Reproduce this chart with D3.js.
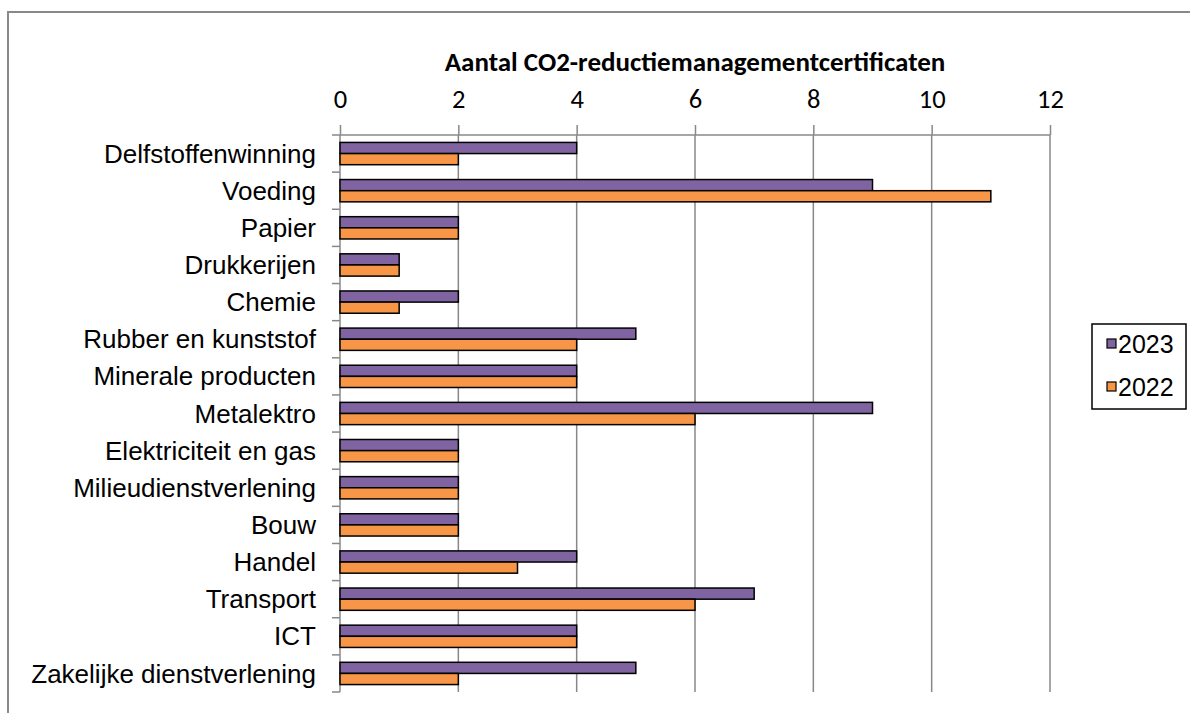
<!DOCTYPE html>
<html><head><meta charset="utf-8">
<script src="https://cdn.jsdelivr.net/npm/d3@7"></script>
<style>body{margin:0;background:#fff}svg{display:block}</style>
</head><body>
<svg id="c" width="1190" height="713"></svg>
<script>
const categories = ["Delfstoffenwinning","Voeding","Papier","Drukkerijen","Chemie","Rubber en kunststof","Minerale producten","Metalektro","Elektriciteit en gas","Milieudienstverlening","Bouw","Handel","Transport","ICT","Zakelijke dienstverlening"];
const seriesNames = ["2023","2022"];
const values2023 = [4,9,2,1,2,5,4,9,2,2,2,4,7,4,5];
const values2022 = [2,11,2,1,1,4,4,6,2,2,2,3,6,4,2];
const tickValues = [0,2,4,6,8,10,12];
const colors = ["#8064A2","#F79646"];
const title = "Aantal CO2-reductiemanagementcertificaten";

(function(){
const svg = d3.select("#c");
const ARIAL = "Arial, 'Liberation Sans', sans-serif";
const CAL = "Carlito, Lato, sans-serif";
svg.append("rect").attr("x",8).attr("y",12).attr("width",1200).attr("height",720)
  .attr("fill","none").attr("stroke","#898989").attr("stroke-width",2);

const pL=340, pR=1050, pT=135, pB=692;
const x = d3.scaleLinear().domain([0,12]).range([pL,pR]);
const y = d3.scaleBand().domain(categories).range([pT,pB]).paddingInner(0.4).paddingOuter(0.2);
const yb = d3.scaleBand().domain(categories).range([pT,pB]);

svg.append("g").selectAll("line").data(tickValues.slice(1)).join("line")
  .attr("x1",d=>x(d)).attr("x2",d=>x(d)).attr("y1",pT).attr("y2",pB)
  .attr("stroke","#888").attr("stroke-width",1.5);

const ax = svg.append("g").attr("transform",`translate(0,${pT})`)
  .call(d3.axisTop(x).tickValues(tickValues).tickSize(10).tickPadding(17).tickFormat(d3.format("d")));
ax.attr("font-size",null).attr("font-family",null);
ax.select(".domain").attr("stroke","#888").attr("stroke-width",1.5).attr("d",`M${pL},0H${pR}`);
ax.selectAll(".tick line").attr("stroke","#888").attr("stroke-width",1.5);
ax.selectAll(".tick text").style("font-family",CAL).style("font-size","26.5px").attr("fill","#000");

svg.append("line").attr("x1",pL).attr("x2",pL).attr("y1",pT).attr("y2",pB).attr("stroke","#888").attr("stroke-width",1.5);
const bounds = categories.map(c=>yb(c)).concat([pB]);
svg.append("g").selectAll("line").data(bounds).join("line")
  .attr("x1",pL-8).attr("x2",pL).attr("y1",d=>d).attr("y2",d=>d).attr("stroke","#888").attr("stroke-width",1.5);

const sub = d3.scaleBand().domain(seriesNames).range([0,y.bandwidth()]);
const data = categories.map((c,i)=>({c, v:[values2023[i],values2022[i]]}));
const g = svg.append("g");
data.forEach(d=>{
  seriesNames.forEach((s,j)=>{
    g.append("rect").attr("x",x(0)).attr("y",y(d.c)+sub(s))
      .attr("width",x(d.v[j])-x(0)).attr("height",sub.bandwidth())
      .attr("fill",colors[j]).attr("stroke","#000").attr("stroke-width",1.5);
  });
});

svg.append("g").selectAll("text").data(categories).join("text")
  .attr("x",316).attr("y",d=>yb(d)+yb.bandwidth()/2).attr("dy","0.35em")
  .attr("text-anchor","end").attr("font-family",ARIAL).attr("font-size",26)
  .text(d=>d);

svg.append("text").attr("x",695).attr("y",71).attr("text-anchor","middle")
  .attr("font-family",CAL).attr("font-weight","bold").attr("font-size",27)
  .text(title);

const lg = svg.append("g");
lg.append("rect").attr("x",1092).attr("y",324).attr("width",94).attr("height",85).attr("fill","#fff").attr("stroke","#000").attr("stroke-width",1.5);
seriesNames.forEach((s,j)=>{
  const cy = 344 + j*43;
  lg.append("rect").attr("x",1107).attr("y",cy-5).attr("width",9).attr("height",9).attr("fill",colors[j]).attr("stroke","#000").attr("stroke-width",1.2);
  lg.append("text").attr("x",1118).attr("y",cy).attr("dy","0.35em").attr("font-family",ARIAL).attr("font-size",25).text(s);
});
})();
</script>
</body></html>
